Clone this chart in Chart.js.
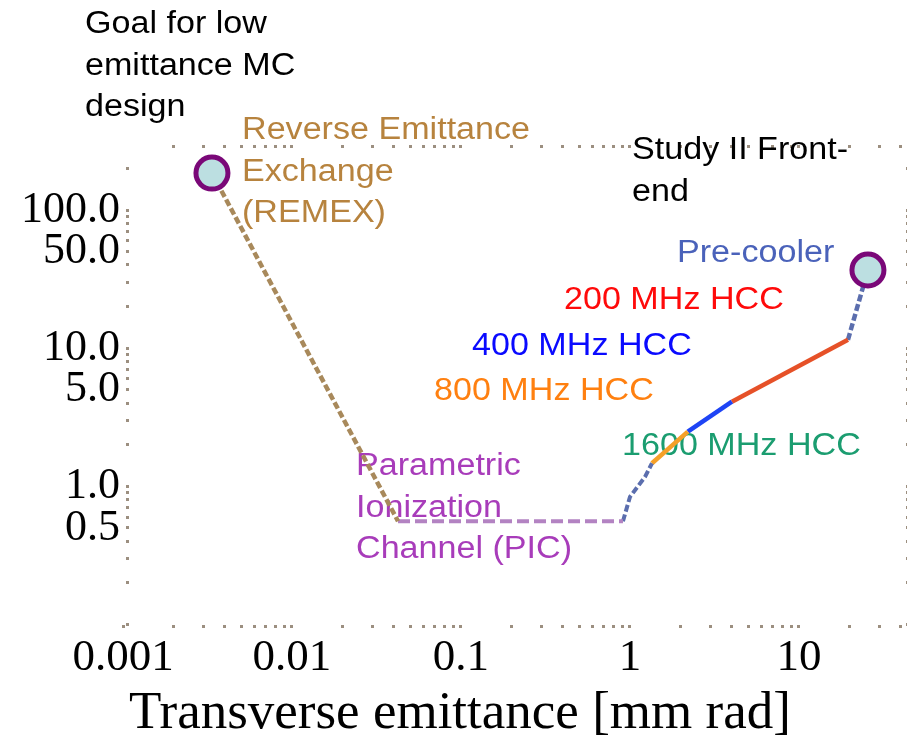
<!DOCTYPE html>
<html>
<head>
<meta charset="utf-8">
<script src="https://cdn.jsdelivr.net/npm/chart.js@4/dist/chart.umd.min.js"></script>
<style>
  html, body { margin: 0; padding: 0; background: #fff; }
  canvas { display: block; }
</style>
</head>
<body>
<canvas id="chart" width="907" height="735"></canvas>
<script>
// emittance path of the cooling scheme: transverse (mm rad) vs longitudinal
const remexT = [0.00336, 0.0424];
const remexL = [185, 0.56];
const picT = [0.0424, 0.909];
const picL = [0.56, 0.56];
const rampT = [0.909, 1.0, 1.227, 1.35];
const rampL = [0.56, 0.84, 1.17, 1.47];
const hcc800T = [1.35, 2.2];
const hcc800L = [1.47, 2.49];
const hcc400T = [2.2, 4.01];
const hcc400L = [2.49, 4.1];
const hcc200T = [4.01, 19.5];
const hcc200L = [4.1, 11.5];
const precoolT = [19.5, 25.6];
const precoolL = [11.5, 36.8];
const endpointT = [0.00336, 25.6];
const endpointL = [185, 36.8];

const xTickValues = [0.001, 0.01, 0.1, 1, 10];
const xTickLabels = ['0.001', '0.01', '0.1', '1', '10'];
const yTickValues = [0.5, 1, 5, 10, 50, 100];
const yTickLabels = ['0.5', '1.0', '5.0', '10.0', '50.0', '100.0'];

const xMin = 0.001085, xMax = 43;
const yMin = 0.0993, yMax = 281;

const dotColor = '#9c8f80';
const serif = "'Liberation Serif', 'Times New Roman', serif";

const notes = [
  { lines: ['Goal for low', 'emittance MC', 'design'], color: '#000000', x: 85, y: 33 },
  { lines: ['Reverse Emittance', 'Exchange', '(REMEX)'], color: '#b7833e', x: 242, y: 139 },
  { lines: ['Study II Front-', 'end'], color: '#000000', x: 632, y: 159 },
  { lines: ['Pre-cooler'], color: '#4a62ba', x: 677, y: 262 },
  { lines: ['200 MHz HCC'], color: '#ff0a0a', x: 564, y: 309 },
  { lines: ['400 MHz HCC'], color: '#0a0aff', x: 472, y: 355 },
  { lines: ['800 MHz HCC'], color: '#ff8010', x: 434, y: 400 },
  { lines: ['1600 MHz HCC'], color: '#1b9d70', x: 622, y: 455 },
  { lines: ['Parametric', 'Ionization', 'Channel (PIC)'], color: '#a83cba', x: 356, y: 475 }
];

function pts(xs, ys) {
  return xs.map((x, i) => ({ x: x, y: ys[i] }));
}

// 1..9 x 10^n positions inside [min, max]
function logSteps(min, max) {
  const out = [];
  for (let e = Math.floor(Math.log10(min)); e <= Math.ceil(Math.log10(max)); e++) {
    for (let m = 1; m <= 9; m++) {
      const v = m * Math.pow(10, e);
      if (v >= min && v <= max) out.push(v);
    }
  }
  return out;
}

function labelFor(values, labels) {
  return (v) => {
    const i = values.findIndex(t => Math.abs(t - v) / t < 1e-6);
    return i >= 0 ? labels[i] : '';
  };
}

function segment(xs, ys, color, width, dash) {
  return {
    data: pts(xs, ys),
    borderColor: color,
    borderWidth: width,
    borderDash: dash || [],
    pointRadius: 0,
    tension: 0,
    fill: false,
    xAxisID: 'x',
    yAxisID: 'y'
  };
}

const annotations = {
  id: 'annotations',
  beforeDatasetsDraw(chart) {
    const ctx = chart.ctx;
    ctx.save();
    ctx.font = "31px 'Liberation Sans', Arial, sans-serif";
    ctx.textBaseline = 'alphabetic';
    ctx.textAlign = 'left';
    notes.forEach(n => {
      ctx.fillStyle = n.color;
      n.lines.forEach((line, i) => {
        ctx.save();
        ctx.translate(n.x, n.y + i * 41.5);
        ctx.scale(1.1, 1);
        ctx.fillText(line, 0, 0);
        ctx.restore();
      });
    });
    ctx.restore();
  }
};

const frameGrid = {
  display: true,
  drawOnChartArea: false,
  drawTicks: true,
  tickLength: 3,
  tickWidth: 3,
  tickColor: dotColor
};

new Chart(document.getElementById('chart').getContext('2d'), {
  type: 'line',
  data: {
    datasets: [
      {
        data: pts(endpointT, endpointL),
        showLine: false,
        pointRadius: 16,
        pointBorderWidth: 5,
        pointBorderColor: '#7a0878',
        pointBackgroundColor: '#bcdfe1',
        xAxisID: 'x',
        yAxisID: 'y'
      },
      segment(remexT, remexL, '#a8895b', 4.5, [7, 3]),
      segment(picT, picL, '#b383c2', 4, [12, 5]),
      segment(rampT, rampL, '#5b6eae', 4, [7, 3]),
      segment(hcc800T, hcc800L, '#f5a028', 4.5),
      segment(hcc400T, hcc400L, '#1e44f5', 4.5),
      segment(hcc200T, hcc200L, '#e65128', 4.5),
      segment(precoolT, precoolL, '#5b6eae', 4.5, [7, 3])
    ]
  },
  options: {
    responsive: false,
    animation: false,
    devicePixelRatio: 1,
    layout: { autoPadding: false, padding: { top: 148, right: 0, bottom: 0, left: 0 } },
    plugins: {
      legend: { display: false },
      tooltip: { enabled: false }
    },
    scales: {
      x: {
        type: 'logarithmic',
        position: 'bottom',
        min: xMin,
        max: xMax,
        bounds: 'data',
        afterBuildTicks: (axis) => {
          axis.ticks = [{ value: 0.001 }].concat(logSteps(xMin, xMax).map(v => ({ value: v })));
        },
        afterFit: (axis) => { axis.height = 110; },
        border: { display: false },
        grid: frameGrid,
        ticks: {
          autoSkip: false,
          maxRotation: 0,
          padding: 3,
          color: '#000',
          font: { family: serif, size: 45 },
          callback: labelFor(xTickValues, xTickLabels)
        },
        title: {
          display: true,
          text: 'Transverse emittance [mm rad]',
          align: 'start',
          color: '#000',
          padding: 0,
          font: { family: serif, size: 53, lineHeight: 0.8 }
        }
      },
      x2: {
        type: 'logarithmic',
        position: 'top',
        min: xMin,
        max: xMax,
        bounds: 'data',
        afterBuildTicks: (axis) => {
          axis.ticks = logSteps(xMin, xMax).map(v => ({ value: v }));
        },
        afterFit: (axis) => { axis.height = 0; },
        border: { display: false },
        grid: frameGrid,
        ticks: { display: false, autoSkip: false }
      },
      y: {
        type: 'logarithmic',
        position: 'left',
        min: yMin,
        max: yMax,
        bounds: 'data',
        afterBuildTicks: (axis) => {
          axis.ticks = logSteps(yMin, yMax).map(v => ({ value: v }));
        },
        afterFit: (axis) => { axis.width = 129; },
        border: { display: false },
        grid: frameGrid,
        ticks: {
          autoSkip: false,
          padding: 6,
          color: '#000',
          font: { family: serif, size: 44 },
          callback: labelFor(yTickValues, yTickLabels)
        }
      },
      y2: {
        type: 'logarithmic',
        position: 'right',
        min: yMin,
        max: yMax,
        bounds: 'data',
        afterBuildTicks: (axis) => {
          axis.ticks = logSteps(yMin, yMax).map(v => ({ value: v }));
        },
        afterFit: (axis) => { axis.width = 1; },
        border: { display: false },
        grid: frameGrid,
        ticks: { display: false, autoSkip: false }
      }
    }
  },
  plugins: [annotations]
});
</script>
</body>
</html>
